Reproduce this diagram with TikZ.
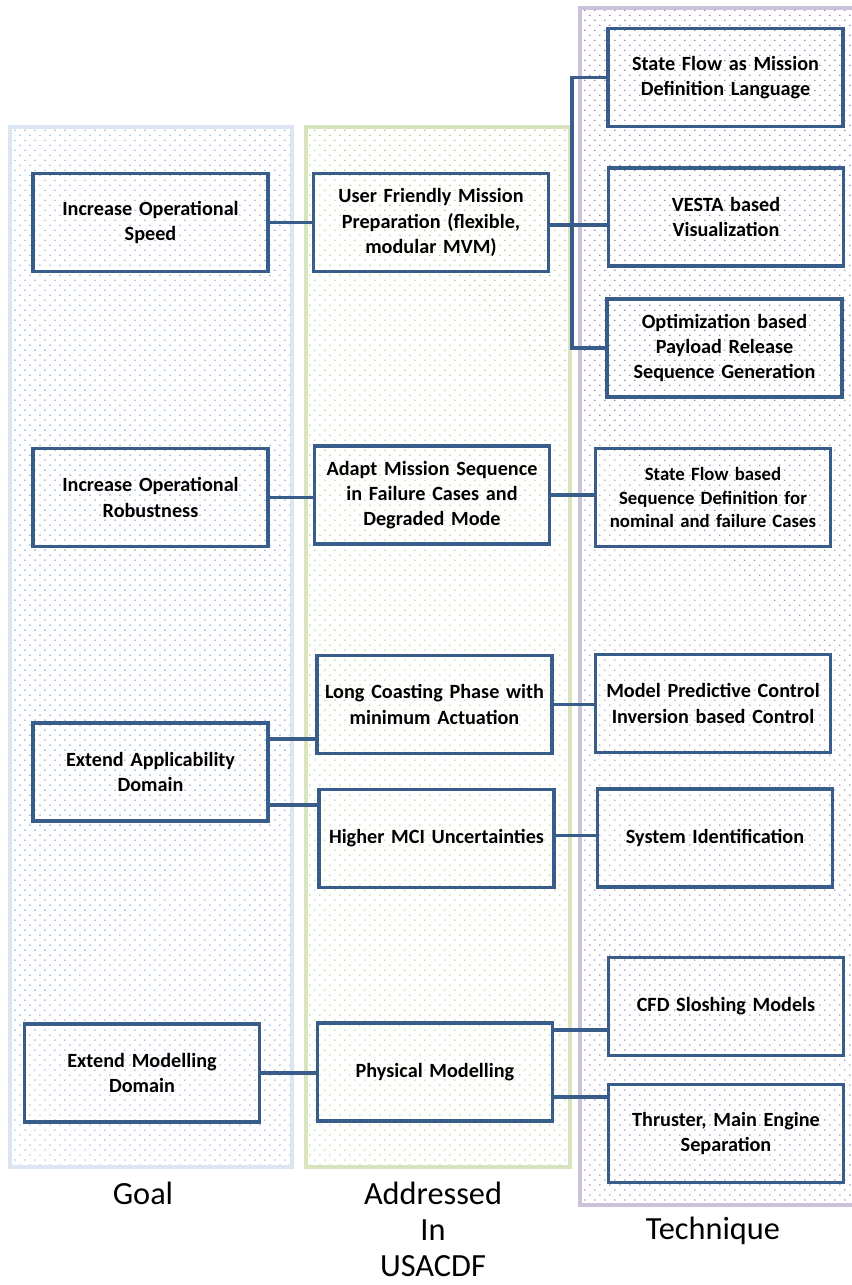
\documentclass[tikz,border=0pt]{standalone}
\usepackage{fontspec}
\setmainfont{Carlito}
\usetikzlibrary{patterns.meta}

\definecolor{boxblue}{HTML}{385D8A}
\definecolor{goalline}{HTML}{DCE6F2}
\definecolor{goaldot}{HTML}{4F81BD}
\definecolor{addrline}{HTML}{D7E4BD}
\definecolor{addrdot}{HTML}{9BBB59}
\definecolor{techline}{HTML}{CCC1DA}
\definecolor{techdot}{HTML}{8064A2}

\begin{document}
\begin{tikzpicture}[x=0.02cm,y=-0.02cm,
		panel/.style={line width=1.9pt},
		dotsa/.style={pattern={Dots[distance=0.2cm,radius=0.4pt]},pattern color=#1},
		dotsb/.style={pattern={Dots[distance=0.2cm,radius=0.4pt,xshift=0.1cm,yshift=0.1cm]},pattern color=#1},
		box/.style={draw=boxblue,line width=2pt,minimum width=4.7cm,minimum height=1.96cm,inner xsep=0pt,
			text width=4.7cm,align=center,font=\fontsize{11.5}{14.3}\selectfont\bfseries},
		link/.style={draw=boxblue,line width=2pt},
		caption/.style={align=center,font=\fontsize{18.4}{20.5}\selectfont}]
			\clip (0,0) rectangle (852,1285);
			% panels
			\fill[white] (0,0) rectangle (852,1285);
			\fill[dotsa=goaldot] (10,127) rectangle (292,1167);
			\fill[dotsb=goaldot] (10,127) rectangle (292,1167);
			\draw[panel,goalline] (10,127) rectangle (292,1167);
			\fill[dotsa=addrdot] (306,127) rectangle (570,1167);
			\fill[dotsb=addrdot] (306,127) rectangle (570,1167);
			\draw[panel,addrline] (306,127) rectangle (570,1167);
			\fill[dotsa=techdot] (580,8) rectangle (870,1205);
			\fill[dotsb=techdot] (580,8) rectangle (870,1205);
			\draw[panel,techline] (580,8) rectangle (870,1205);
			% goal
			\draw (150.5,222.5) node [box] (G1) {Increase Operational\\Speed};
			\draw (150.5,497.5) node [box] (G2) {Increase Operational\\Robustness};
			\draw (150.5,772) node [box] (G3) {Extend Applicability\\Domain};
			\draw (142,1073) node [box] (G4) {Extend Modelling\\Domain};
			% addressed in
			\draw (431,222.5) node [box] (A1) {User Friendly Mission\\Preparation (flexible,\\modular MVM)};
			\draw (432,495) node [box] (A2) {Adapt Mission Sequence\\in Failure Cases and\\Degraded Mode};
			\draw (434.5,704.5) node [box] (A3) {Long Coasting Phase with\\minimum Actuation};
			\draw (436.5,838.5) node [box] (A4) {Higher MCI Uncertainties};
			\draw (435,1072) node [box] (A5) {Physical Modelling};
			% technique
			\draw (725.5,77.5) node [box] (T1) {State Flow as Mission\\Definition Language};
			\draw (726,217) node [box] (T2) {VESTA based\\Visualization};
			\draw (724.5,348) node [box] (T3) {Optimization based\\Payload Release\\Sequence Generation};
			\draw (713,497.5) node [box,font=\fontsize{10.7}{13.5}\selectfont\bfseries] (T4) {State Flow based\\Sequence Definition for\\nominal and failure Cases};
			\draw (713,703.5) node [box] (T5) {Model Predictive Control\\Inversion based Control};
			\draw (715,838) node [box] (T6) {System Identification};
			\draw (726,1006.5) node [box] (T7) {CFD Sloshing Models};
			\draw (726,1133.5) node [box] (T8) {Thruster, Main Engine\\Separation};
			% captions
			\draw (143,1193) node [caption] (goal) {Goal};
			\draw (433,1229) node [caption] (addr) {Addressed\\In\\USACDF};
			\draw (713,1231) node [caption] (tech) {Technique};
			% connectors
			\coordinate (bus) at (572,225);
			\path[link] (G1) -- (A1);
			\path[link] (A1.east |- bus) -- (bus) -- (T2.west |- bus);
			\path[link] (bus) |- (T1.west);
			\path[link] (bus) |- (T3.west);
			\path[link] (G2) -- (A2.west |- G2.east);
			\path[link] (A2) -- (T4.west |- A2.east);
			\path[link] (A3) -- (T5.west |- A3.east);
			\path[link] ([yshift=0.66cm]G3.east) -- ([yshift=0.66cm]G3.east -| A3.west);
			\path[link] ([yshift=-0.66cm]G3.east) -- ([yshift=-0.66cm]G3.east -| A4.west);
			\path[link] ([yshift=0.06cm]A4.east) -- ([yshift=0.06cm]A4.east -| T6.west);
			\path[link] (G4) -- (A5.west |- G4.east);
			\path[link] ([yshift=0.84cm]A5.east) -- ([yshift=0.84cm]A5.east -| T7.west);
			\path[link] ([yshift=-0.5cm]A5.east) -- ([yshift=-0.5cm]A5.east -| T8.west);
		\end{tikzpicture}
\end{document}
